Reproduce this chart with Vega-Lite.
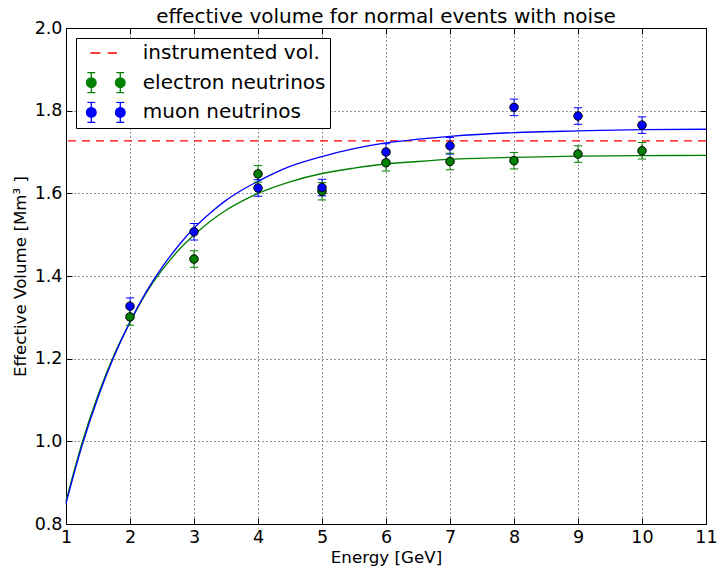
{
  "$schema": "https://vega.github.io/schema/vega-lite/v6.json",
  "width": 640,
  "height": 496,
  "autosize": {"type": "none"},
  "padding": {"left": 66, "top": 28, "right": 12, "bottom": 47},
  "background": "#ffffff",
  "title": {"text": "effective volume for normal events with noise", "fontSize": 20, "font": "DejaVu Sans", "fontWeight": "normal", "color": "#000000", "offset": -8, "anchor": "middle"},
  "config": {
    "view": {"stroke": "#000000", "strokeWidth": 1},
    "font": "DejaVu Sans"
  },
  "datasets": {
    "instr": [{"series": "instrumented vol.", "volume": 1.727}],
    "points": [
      {"series": "electron neutrinos", "energy": 2, "volume": 1.301, "lo": 1.281, "hi": 1.321},
      {"series": "electron neutrinos", "energy": 3, "volume": 1.441, "lo": 1.421, "hi": 1.461},
      {"series": "electron neutrinos", "energy": 4, "volume": 1.647, "lo": 1.627, "hi": 1.667},
      {"series": "electron neutrinos", "energy": 5, "volume": 1.605, "lo": 1.584, "hi": 1.626},
      {"series": "electron neutrinos", "energy": 6, "volume": 1.674, "lo": 1.654, "hi": 1.694},
      {"series": "electron neutrinos", "energy": 7, "volume": 1.677, "lo": 1.657, "hi": 1.697},
      {"series": "electron neutrinos", "energy": 8, "volume": 1.679, "lo": 1.659, "hi": 1.699},
      {"series": "electron neutrinos", "energy": 9, "volume": 1.695, "lo": 1.675, "hi": 1.715},
      {"series": "electron neutrinos", "energy": 10, "volume": 1.703, "lo": 1.683, "hi": 1.723},
      {"series": "muon neutrinos", "energy": 2, "volume": 1.327, "lo": 1.307, "hi": 1.347},
      {"series": "muon neutrinos", "energy": 3, "volume": 1.507, "lo": 1.487, "hi": 1.527},
      {"series": "muon neutrinos", "energy": 4, "volume": 1.613, "lo": 1.593, "hi": 1.633},
      {"series": "muon neutrinos", "energy": 5, "volume": 1.614, "lo": 1.594, "hi": 1.634},
      {"series": "muon neutrinos", "energy": 6, "volume": 1.700, "lo": 1.680, "hi": 1.720},
      {"series": "muon neutrinos", "energy": 7, "volume": 1.715, "lo": 1.695, "hi": 1.735},
      {"series": "muon neutrinos", "energy": 8, "volume": 1.808, "lo": 1.788, "hi": 1.828},
      {"series": "muon neutrinos", "energy": 9, "volume": 1.787, "lo": 1.767, "hi": 1.807},
      {"series": "muon neutrinos", "energy": 10, "volume": 1.765, "lo": 1.745, "hi": 1.785}
    ],
    "fits": [
      {"series": "electron neutrinos", "energy": 1.0, "volume": 0.855},
      {"series": "electron neutrinos", "energy": 1.25, "volume": 0.996},
      {"series": "electron neutrinos", "energy": 1.5, "volume": 1.112},
      {"series": "electron neutrinos", "energy": 1.75, "volume": 1.209},
      {"series": "electron neutrinos", "energy": 2.0, "volume": 1.288},
      {"series": "electron neutrinos", "energy": 2.25, "volume": 1.358},
      {"series": "electron neutrinos", "energy": 2.5, "volume": 1.414},
      {"series": "electron neutrinos", "energy": 2.75, "volume": 1.461},
      {"series": "electron neutrinos", "energy": 3.0, "volume": 1.499},
      {"series": "electron neutrinos", "energy": 3.25, "volume": 1.532},
      {"series": "electron neutrinos", "energy": 3.5, "volume": 1.559},
      {"series": "electron neutrinos", "energy": 3.75, "volume": 1.581},
      {"series": "electron neutrinos", "energy": 4.0, "volume": 1.600},
      {"series": "electron neutrinos", "energy": 4.5, "volume": 1.628},
      {"series": "electron neutrinos", "energy": 5.0, "volume": 1.648},
      {"series": "electron neutrinos", "energy": 5.5, "volume": 1.661},
      {"series": "electron neutrinos", "energy": 6.0, "volume": 1.671},
      {"series": "electron neutrinos", "energy": 6.5, "volume": 1.677},
      {"series": "electron neutrinos", "energy": 7.0, "volume": 1.682},
      {"series": "electron neutrinos", "energy": 8.0, "volume": 1.687},
      {"series": "electron neutrinos", "energy": 9.0, "volume": 1.690},
      {"series": "electron neutrinos", "energy": 10.0, "volume": 1.691},
      {"series": "electron neutrinos", "energy": 11.0, "volume": 1.692},
      {"series": "muon neutrinos", "energy": 1.0, "volume": 0.850},
      {"series": "muon neutrinos", "energy": 1.25, "volume": 0.989},
      {"series": "muon neutrinos", "energy": 1.5, "volume": 1.106},
      {"series": "muon neutrinos", "energy": 1.75, "volume": 1.205},
      {"series": "muon neutrinos", "energy": 2.0, "volume": 1.289},
      {"series": "muon neutrinos", "energy": 2.25, "volume": 1.361},
      {"series": "muon neutrinos", "energy": 2.5, "volume": 1.421},
      {"series": "muon neutrinos", "energy": 2.75, "volume": 1.472},
      {"series": "muon neutrinos", "energy": 3.0, "volume": 1.516},
      {"series": "muon neutrinos", "energy": 3.25, "volume": 1.552},
      {"series": "muon neutrinos", "energy": 3.5, "volume": 1.583},
      {"series": "muon neutrinos", "energy": 3.75, "volume": 1.608},
      {"series": "muon neutrinos", "energy": 4.0, "volume": 1.629},
      {"series": "muon neutrinos", "energy": 4.5, "volume": 1.665},
      {"series": "muon neutrinos", "energy": 5.0, "volume": 1.689},
      {"series": "muon neutrinos", "energy": 5.5, "volume": 1.708},
      {"series": "muon neutrinos", "energy": 6.0, "volume": 1.722},
      {"series": "muon neutrinos", "energy": 6.5, "volume": 1.731},
      {"series": "muon neutrinos", "energy": 7.0, "volume": 1.738},
      {"series": "muon neutrinos", "energy": 8.0, "volume": 1.747},
      {"series": "muon neutrinos", "energy": 9.0, "volume": 1.751},
      {"series": "muon neutrinos", "energy": 10.0, "volume": 1.754},
      {"series": "muon neutrinos", "energy": 11.0, "volume": 1.755}
    ]
  },
  "resolve": {"axis": {"x": "independent", "y": "independent"}},
  "layer": [
    {
      "encoding": {
        "x": {
          "field": "energy", "type": "quantitative",
          "scale": {"domain": [1, 11], "nice": false, "zero": false},
          "axis": {"orient": "bottom", "values": [1, 2, 3, 4, 5, 6, 7, 8, 9, 10, 11], "format": "d", "labelFlush": false, "labelOverlap": false, "grid": true, "gridColor": "#000000", "gridDash": [1, 3], "gridWidth": 1, "gridOpacity": 0.85, "domain": false, "ticks": true, "tickSize": -6, "tickColor": "#000000", "labelFontSize": 17.5, "labelColor": "#000000", "labelFont": "DejaVu Sans", "labelPadding": 10, "title": "Energy [GeV]", "titleFontSize": 16.7, "titleFontWeight": "normal", "titleColor": "#000000", "titleFont": "DejaVu Sans", "titlePadding": 4}
        },
        "y": {
          "field": "volume", "type": "quantitative",
          "scale": {"domain": [0.8, 2.0], "nice": false, "zero": false},
          "axis": {"orient": "left", "values": [0.8, 1.0, 1.2, 1.4, 1.6, 1.8, 2.0], "format": ".1f", "labelFlush": false, "labelOverlap": false, "grid": true, "gridColor": "#000000", "gridDash": [1, 3], "gridWidth": 1, "gridOpacity": 0.85, "domain": false, "ticks": true, "tickSize": -6, "tickColor": "#000000", "labelFontSize": 17.5, "labelColor": "#000000", "labelFont": "DejaVu Sans", "labelPadding": 10, "title": "Effective Volume [Mm³ ]", "titleFontSize": 16.7, "titleFontWeight": "normal", "titleColor": "#000000", "titleFont": "DejaVu Sans", "titlePadding": 5}
        },
        "color": {
          "field": "series", "type": "nominal",
          "scale": {"domain": ["instrumented vol.", "electron neutrinos", "muon neutrinos"], "range": ["#ff0000", "#008000", "#0000ff"]},
          "legend": {
            "orient": "none", "legendX": 10, "legendY": 10, "title": null,
            "padding": 4, "strokeColor": "#000000", "fillColor": "#ffffff", "cornerRadius": 0,
            "labelFontSize": 20, "labelColor": "#000000", "labelFont": "DejaVu Sans", "labelLimit": 400,
            "symbolSize": 676, "symbolOffset": 11.8, "labelOffset": 23, "rowPadding": 7.7, "clipHeight": 22,
            "encode": {
              "symbols": {
                "update": {
                  "shape": {"signal": "datum.value === 'instrumented vol.' ? 'M-1.19,0H-0.42M0.15,0H0.86' : 'M-1.485,0A0.37,0.37 0 1,1 -0.745,0A0.37,0.37 0 1,1 -1.485,0ZM0.745,0A0.37,0.37 0 1,1 1.485,0A0.37,0.37 0 1,1 0.745,0ZM-1.115,-0.77V0.77M-1.415,-0.77H-0.815M-1.415,0.77H-0.815M1.115,-0.77V0.77M0.815,-0.77H1.415M0.815,0.77H1.415'"},
                  "fill": {"signal": "datum.value === 'instrumented vol.' ? 'transparent' : (datum.value === 'electron neutrinos' ? '#008000' : '#0000ff')"},
                  "stroke": {"signal": "datum.value === 'instrumented vol.' ? '#ff0000' : (datum.value === 'electron neutrinos' ? '#008000' : '#0000ff')"},
                  "strokeWidth": {"value": 1.3},
                  "strokeDash": {"value": []},
                  "opacity": {"value": 1},
                  "fillOpacity": {"value": 1},
                  "strokeOpacity": {"value": 1}
                }
              }
            }
          }
        }
      },
      "layer": [
        {
          "data": {"name": "instr"},
          "mark": {"type": "rule", "strokeDash": [8, 6], "strokeWidth": 1.4},
          "encoding": {"x": null}
        },
        {
          "data": {"name": "fits"},
          "mark": {"type": "line", "strokeWidth": 1.3, "interpolate": "monotone"}
        },
        {
          "data": {"name": "points"},
          "mark": {"type": "rule", "strokeWidth": 1},
          "encoding": {"y": {"field": "lo", "type": "quantitative"}, "y2": {"field": "hi"}}
        },
        {
          "data": {"name": "points"},
          "mark": {"type": "point", "shape": "stroke", "size": 70, "filled": false, "strokeWidth": 1, "opacity": 1},
          "encoding": {"y": {"field": "lo", "type": "quantitative"}}
        },
        {
          "data": {"name": "points"},
          "mark": {"type": "point", "shape": "stroke", "size": 70, "filled": false, "strokeWidth": 1, "opacity": 1},
          "encoding": {"y": {"field": "hi", "type": "quantitative"}}
        },
        {
          "data": {"name": "points"},
          "mark": {"type": "point", "shape": "circle", "size": 72, "filled": true, "stroke": "#000000", "strokeWidth": 1, "opacity": 1, "fillOpacity": 1}
        }
      ]
    },
    {
      "data": {"name": "fits"},
      "mark": {"type": "line", "opacity": 0},
      "encoding": {
        "x": {"field": "energy", "type": "quantitative", "scale": {"domain": [1, 11], "nice": false, "zero": false},
          "axis": {"orient": "top", "values": [1, 2, 3, 4, 5, 6, 7, 8, 9, 10, 11], "labels": false, "grid": false, "domain": false, "tickSize": -6, "tickColor": "#000000", "title": null}},
        "y": {"field": "volume", "type": "quantitative", "scale": {"domain": [0.8, 2.0], "nice": false, "zero": false},
          "axis": {"orient": "right", "values": [0.8, 1.0, 1.2, 1.4, 1.6, 1.8, 2.0], "labels": false, "grid": false, "domain": false, "tickSize": -6, "tickColor": "#000000", "title": null}}
      }
    }
  ]
}
